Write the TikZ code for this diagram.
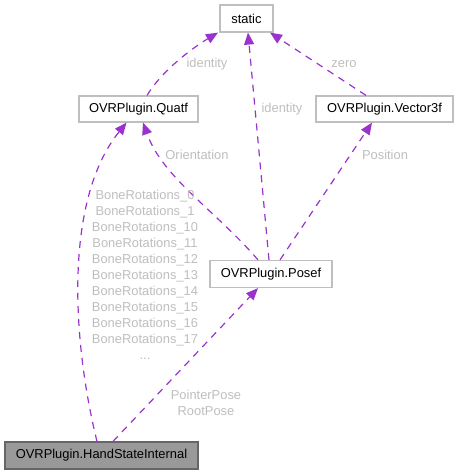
\documentclass[tikz,border=0pt]{standalone}
\usepackage{fontspec}
\setmainfont{Liberation Sans}
\usetikzlibrary{arrows.meta}
\definecolor{edgec}{HTML}{9A32CD}
\definecolor{boxline}{HTML}{BFBFBF}
\definecolor{lbl}{HTML}{BEBEBE}
\definecolor{hsifill}{HTML}{999999}
\definecolor{hsiline}{HTML}{666666}
\begin{document}
\begin{tikzpicture}[x=1pt,y=-1pt,
  box/.style={draw=boxline, line width=1.2pt, fill=white, inner sep=0pt, font=\fontsize{12.9}{16}\selectfont},
  dep/.style={draw=edgec, line width=1.2pt, dash pattern=on 7pt off 6pt, -{Triangle[length=12pt,width=10pt]}},
  lab/.style={text=lbl, font=\fontsize{12.9}{16}\selectfont, align=center, inner sep=0pt}]
\useasboundingbox (0,0) rectangle (460,475);
\node[box, minimum width=53pt, minimum height=27pt] (static) at (246.5,18.5) {static};
\node[box, minimum width=119pt, minimum height=26pt] (quatf) at (138.5,109) {OVRPlugin.Quatf};
\node[box, minimum width=137pt, minimum height=26pt] (vec) at (384.5,109) {OVRPlugin.Vector3f};
\node[box, minimum width=122pt, minimum height=27pt] (posef) at (271,274) {OVRPlugin.Posef};
\node[box, fill=hsifill, draw=hsiline, minimum width=193pt, minimum height=27pt] (hsi) at (101.5,455.5) {OVRPlugin.HandStateInternal};

\draw[dep] ([xshift=8.5pt]quatf.north) .. controls +(15,-25) and +(-25,15) .. ([xshift=-28.5pt]static.south);
\draw[dep] ([xshift=-2pt]posef.north) -- ([xshift=1.5pt]static.south);
\draw[dep] ([xshift=-18.5pt]vec.north) -- ([xshift=23.5pt]static.south);
\draw[dep] ([xshift=-13pt]posef.north) .. controls (215,210) and (163,178) .. ([xshift=4.5pt]quatf.south);
\draw[dep] ([xshift=9pt]posef.north) -- ([xshift=-12.5pt]vec.south);
\draw[dep] ([xshift=-4.5pt]hsi.north) .. controls (72,340) and (64,200) .. ([xshift=-12pt]quatf.south);
\draw[dep] ([xshift=11.5pt]hsi.north) -- ([xshift=-13pt]posef.south);

\node[lab] (l1) at (207,64) {identity};
\node[lab] (l2) at (282,109) {identity};
\node[lab] (l3) at (344,64) {zero};
\node[lab] (l4) at (197,155) {Orientation};
\node[lab] (l5) at (385,155) {Position};
\node[lab] (l6) at (145,274.5) {BoneRotations\_0\\BoneRotations\_1\\BoneRotations\_10\\BoneRotations\_11\\BoneRotations\_12\\BoneRotations\_13\\BoneRotations\_14\\BoneRotations\_15\\BoneRotations\_16\\BoneRotations\_17\\...};
\node[lab] (l7) at (206,402.5) {PointerPose\\RootPose};
\end{tikzpicture}
\end{document}
